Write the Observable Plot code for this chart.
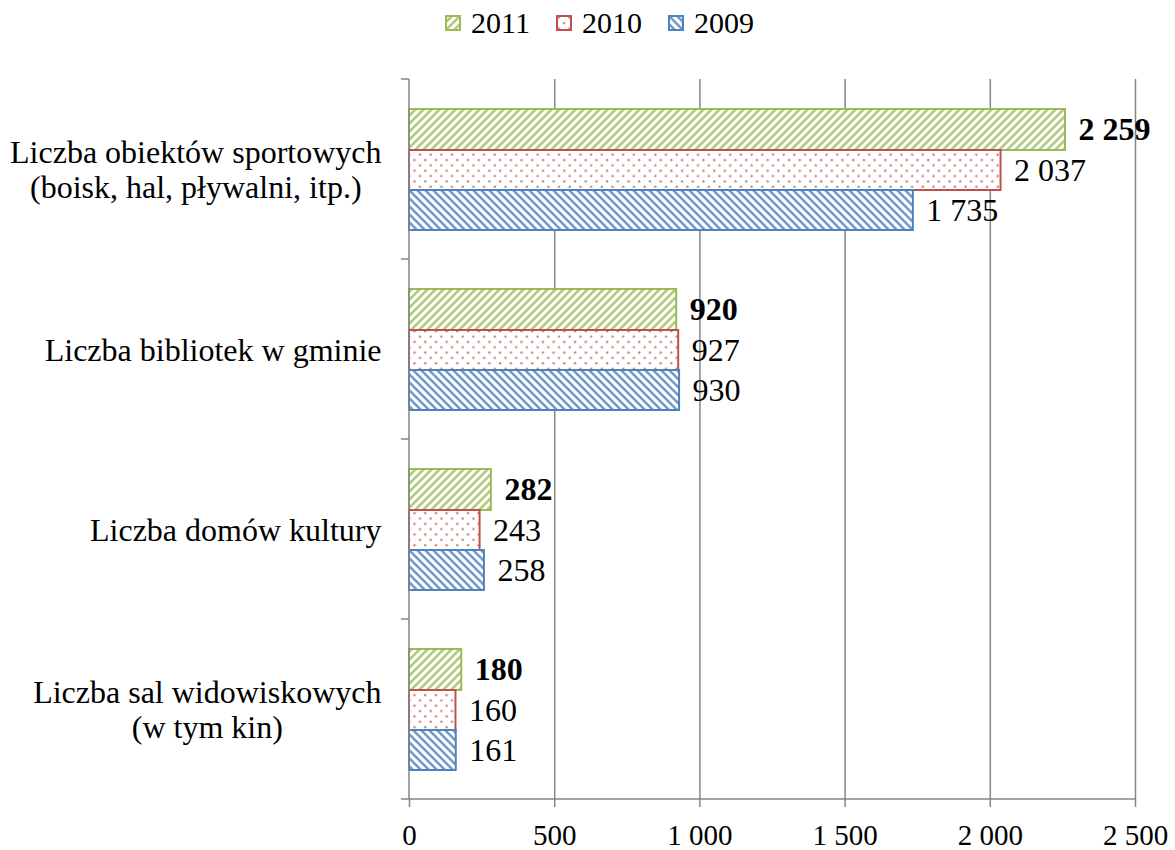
<!DOCTYPE html>
<html><head><meta charset="utf-8">
<script src="https://cdn.jsdelivr.net/npm/d3@7"></script>
<script src="https://cdn.jsdelivr.net/npm/@observablehq/plot@0.6"></script>
<style>
body{margin:0;background:#fff;font-family:"Liberation Serif","Times New Roman",serif;color:#000;}
#legend{height:45px;display:flex;align-items:center;justify-content:center;font-size:30px;padding-left:24px;box-sizing:border-box;}
#legend .item{display:flex;align-items:center;margin:0 13px;}
#legend svg{margin-right:10px;}
</style></head><body>
<svg width="0" height="0" style="position:absolute"><defs>
<pattern id="p2011" patternUnits="userSpaceOnUse" width="8" height="8">
<rect width="8" height="8" fill="#fff"/>
<path d="M-2,2 L2,-2 M0,8 L8,0 M6,10 L10,6" stroke="#9BBB59" stroke-width="2.6" stroke-opacity="0.8"/>
</pattern>
<pattern id="p2009" patternUnits="userSpaceOnUse" width="8" height="8">
<rect width="8" height="8" fill="#fff"/>
<path d="M-2,6 L2,10 M0,0 L8,8 M6,-2 L10,2" stroke="#4F81BD" stroke-width="2.6" stroke-opacity="0.8"/>
</pattern>
<pattern id="p2010" patternUnits="userSpaceOnUse" width="10.7" height="10.7">
<rect width="10.7" height="10.7" fill="#fff"/>
<circle cx="2.6" cy="2.6" r="1.2" fill="#C0504D" fill-opacity="0.75"/>
<circle cx="7.95" cy="7.95" r="1.2" fill="#C0504D" fill-opacity="0.75"/>
</pattern>
</defs></svg>
<div id="legend"></div>
<div id="chart"></div>
<script>
const categories = ["Liczba obiektów sportowych\n(boisk, hal, pływalni, itp.)", "Liczba bibliotek w gminie", "Liczba domów kultury", "Liczba sal widowiskowych\n(w tym kin)"];
const years = ["2011", "2010", "2009"];
const v2011 = [2259, 920, 282, 180];
const v2010 = [2037, 927, 243, 160];
const v2009 = [1735, 930, 258, 161];
const xTicks = [0, 500, 1000, 1500, 2000, 2500];

const colors = {"2011": "#9BBB59", "2010": "#C0504D", "2009": "#4F81BD"};
const values = {"2011": v2011, "2010": v2010, "2009": v2009};
const axisColor = "#868686";
const FS = 32;
const fmt = d3.formatLocale({decimal: ",", thousands: "\u00a0", grouping: [3], currency: ["", ""]}).format(",d");

const rows = years.flatMap(yr => categories.map((c, i) => ({year: yr, category: c, value: values[yr][i]})));

// legend
const legend = document.getElementById("legend");
for (const yr of years) {
  const item = document.createElement("div");
  item.className = "item";
  item.innerHTML = `<svg width="16" height="16"><rect x="1" y="1" width="14" height="14" fill="url(#p${yr})" stroke="${colors[yr]}" stroke-width="2"/></svg><span>${yr}</span>`;
  legend.appendChild(item);
}

const layout = {
  "2011": {insetTop: 30, insetBottom: 109, dy: -40},
  "2010": {insetTop: 71, insetBottom: 69, dy: 1},
  "2009": {insetTop: 111, insetBottom: 29, dy: 41}
};

function axisLines(index, scales, vals, dimensions) {
  const {marginLeft, marginTop, height, marginBottom, width, marginRight} = dimensions;
  const g = d3.create("svg:g").attr("stroke", axisColor).attr("stroke-width", 1.5).attr("fill", "none");
  const y = scales.y;
  const bottom = height - marginBottom;
  g.append("line").attr("x1", marginLeft).attr("x2", marginLeft).attr("y1", marginTop).attr("y2", bottom);
  g.append("line").attr("x1", marginLeft - 8).attr("x2", width - marginRight).attr("y1", bottom).attr("y2", bottom);
  for (const c of categories) {
    const yy = y(c);
    g.append("line").attr("x1", marginLeft - 8).attr("x2", marginLeft).attr("y1", yy).attr("y2", yy);
  }
  return g.node();
}

const marks = [
  Plot.gridX(xTicks.slice(1), {stroke: axisColor, strokeOpacity: 1, strokeWidth: 1.5})
];
for (const yr of years) {
  const data = rows.filter(r => r.year === yr);
  marks.push(Plot.barX(data, {
    y: "category", x: "value",
    insetTop: layout[yr].insetTop, insetBottom: layout[yr].insetBottom,
    fill: `url(#p${yr})`, stroke: colors[yr], strokeWidth: 2
  }));
}
for (const yr of years) {
  const data = rows.filter(r => r.year === yr);
  marks.push(Plot.text(data, {
    y: "category", x: "value", text: d => fmt(d.value),
    dx: 13, dy: layout[yr].dy, textAnchor: "start",
    fontSize: FS, fontWeight: yr === "2011" ? "bold" : "normal", fill: "#000"
  }));
}
marks.push(Plot.text(categories, {
  y: d => d, text: d => d, frameAnchor: "left", dx: -28, textAnchor: "end",
  lineHeight: 1.1, fontSize: FS, fill: "#000", className: "catlabels"
}));
marks.push(axisLines);
marks.push(Plot.axisX(xTicks, {tickSize: 8, tickPadding: 17, tickFormat: fmt, stroke: axisColor, strokeWidth: 1.5, fontSize: 29, label: null}));

const chart = Plot.plot({
  width: 1175,
  height: 805,
  marginTop: 34,
  marginBottom: 51,
  marginLeft: 409,
  marginRight: 40,
  style: {fontFamily: '"Liberation Serif","Times New Roman",serif', color: "#000", background: "#fff", overflow: "visible"},
  x: {domain: [0, 2500], axis: null, label: null},
  y: {domain: categories, padding: 0, axis: null},
  marks
});
document.getElementById("chart").appendChild(chart);

// center multi-line category labels within their block (right edge fixed)
chart.querySelectorAll("g.catlabels text").forEach(t => {
  const spans = t.querySelectorAll("tspan");
  if (spans.length > 1) {
    const w = t.getBBox().width;
    t.setAttribute("text-anchor", "middle");
    t.style.textAnchor = "middle";
    spans.forEach(s => s.setAttribute("x", -w / 2));
  }
});
</script>
</body></html>
